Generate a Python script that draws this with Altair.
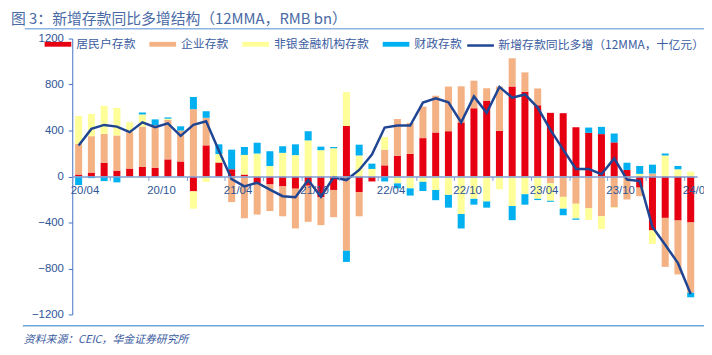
import altair as alt
import pandas as pd

months = ["20/04", "20/05", "20/06", "20/07", "20/08", "20/09", "20/10", "20/11", "20/12",
          "21/01", "21/02", "21/03", "21/04", "21/05", "21/06", "21/07", "21/08", "21/09",
          "21/10", "21/11", "21/12", "22/01", "22/02", "22/03", "22/04", "22/05", "22/06",
          "22/07", "22/08", "22/09", "22/10", "22/11", "22/12", "23/01", "23/02", "23/03",
          "23/04", "23/05", "23/06", "23/07", "23/08", "23/09", "23/10", "23/11", "23/12",
          "24/01", "24/02", "24/03", "24/04"]

household = [17, 34, 120, 51, 69, 83, 77, 149, 131,
             -129, 271, 120, 63, 17, -57, -69, -86, -106,
             -80, -180, -117, 440, -137, -43, 97, 180, 197,
             334, 383, 394, 471, 594, 657, 397, 783, 737,
             620, 554, 551, 429, 380, 369, 297, 57, -97,
             -469, -360, -383, -400]
corporate = [266, 317, 251, 306, 317, 351, 369, 343, 269,
             586, 240, 5, -223, -363, -274, -231, -260, -346,
             -314, -243, -237, -646, -209, 0, 137, 320, 269,
             274, 320, 389, 314, 240, 111, 386, 246, 169,
             146, -60, -177, -237, -277, -346, -269, -200, -74,
             26, -426, -469, -611]
nonbank = [243, 194, 243, 240, 86, 106, 0, 11, 0,
           -151, -46, 70, 0, 171, 200, 91, 206, 186,
           314, 229, 246, 294, 183, 66, 109, -60, -103,
           -46, -117, -160, -326, -194, -217, -111, -257, -154,
           -194, -151, -103, -129, -100, -111, -6, 0, 23,
           -117, 183, 63, 43]
fiscal = [-74, -14, -40, -51, 0, 17, 51, 11, 37,
          106, 57, 85, 171, 69, 94, 129, 57, 94,
          80, 31, 11, -97, 94, 46, -43, -43, -63,
          -80, -89, -111, -126, -51, -54, 0, -123, -91,
          -11, -9, -57, -11, 46, 63, 77, 63, 69,
          77, 17, 29, -40]
total_12mma = [269, 414, 449, 434, 386, 471, 429, 463, 354,
               449, 480, 225, -23, -86, -54, -114, -171, -180,
               -31, -177, -6, -31, 57, 191, 426, 443, 443,
               643, 680, 646, 471, 697, 554, 780, 686, 714,
               600, 406, 234, 66, 66, 20, 157, -26, -40,
               -440, -594, -754, -1023]

series_names = ["居民户存款", "企业存款", "非银金融机构存款", "财政存款"]
line_name = "新增存款同比多增（12MMA，十亿元）"
bar_colors = ["#E60012", "#F4B183", "#FFFF99", "#00B0F0"]
line_color = "#1F4593"
y_ticks = [-1200, -800, -400, 0, 400, 800, 1200]

title_text = "图 3：新增存款同比多增结构（12MMA，RMB bn）"
source_text = "资料来源：CEIC，华金证券研究所"

rows = []
for i, m in enumerate(months):
    for k, (name, vals) in enumerate(zip(series_names, [household, corporate, nonbank, fiscal])):
        rows.append({"m": m, "s": name, "v": vals[i], "o": k})
bars_df = pd.DataFrame(rows)
line_df = pd.DataFrame({"m": months, "v": total_12mma, "s": [line_name] * len(months)})

W, H = 632, 279
STEP = W / len(months)
CJK = "Noto Sans CJK SC"
LAT = "Liberation Sans"
LEG_COLOR = "#3B5CA0"

xscale = alt.Scale(type="band", paddingInner=0, paddingOuter=0)
yscale = alt.Scale(domain=[-1200, 1200], nice=False, zero=False)

thick = "M-1,-0.18L1,-0.18L1,0.18L-1,0.18Z"

bar_legend = alt.Legend(
    title=None, orient="none", legendX=-28, legendY=-8, direction="horizontal",
    columns=4, columnPadding=13, padding=0,
    symbolType=thick, symbolSize=729, symbolStrokeWidth=0,
    labelFont=CJK, labelFontSize=12, labelColor=LEG_COLOR, labelOffset=5,
)
line_legend = alt.Legend(
    title=None, orient="none", legendX=398, legendY=-8, direction="horizontal",
    padding=0, symbolType="stroke", symbolSize=729, symbolStrokeWidth=2.5,
    labelFont=CJK, labelFontSize=12, labelColor=LEG_COLOR, labelOffset=3,
    labelLimit=400,
)

xaxis = alt.Axis(
    title=None, values=months[::3], bandPosition=0, labelOffset=STEP / 2,
    labelExpr="(toNumber(substring(datum.value,3,5)) % 6 == 4) ? datum.value : ''",
    offset=-H / 2, domainColor="#7F9FD5", domainWidth=1.5, tickColor="#7F9FD5",
    tickSize=4, labelColor="#2F5597", labelFont=LAT, labelFontSize=11.5,
    labelPadding=4, labelAngle=0, labelOverlap=False, zindex=1,
)
yaxis = alt.Axis(
    title=None, values=y_ticks, format="d", grid=False, domainColor="#4472C4",
    tickColor="#4472C4", tickSize=4, labelColor="#2F5597", labelFont=LAT,
    labelFontSize=11.5, labelPadding=5, labelFlush=False,
)

bars = alt.Chart(bars_df).mark_bar(width=alt.RelativeBandSize(0.55)).encode(
    x=alt.X("m:N", sort=months, scale=xscale, axis=xaxis),
    y=alt.Y("v:Q", scale=yscale, axis=yaxis, stack="zero"),
    color=alt.Color("s:N", scale=alt.Scale(domain=series_names, range=bar_colors), legend=bar_legend),
    order=alt.Order("o:Q", sort="ascending"),
)

line = alt.Chart(line_df).mark_line(strokeWidth=2.5).encode(
    x=alt.X("m:N", sort=months, scale=xscale),
    y=alt.Y("v:Q", scale=yscale),
    stroke=alt.Stroke("s:N", scale=alt.Scale(domain=[line_name], range=[line_color]), legend=line_legend),
)

deco_df = pd.DataFrame({"t": [title_text], "s": [source_text]})
title = alt.Chart(deco_df).mark_text(
    align="left", baseline="middle", font=CJK, fontSize=15, color="#4A6AA5"
).encode(text="t:N", x=alt.value(-62), y=alt.value(-19.5))
source = alt.Chart(deco_df).mark_text(
    align="left", baseline="middle", font=CJK, fontSize=11, fontStyle="italic", color=LEG_COLOR
).encode(text="s:N", x=alt.value(-49), y=alt.value(305))
top_rule = alt.Chart(deco_df).mark_rule(color="#8DB3E2", strokeWidth=1.5).encode(
    x=alt.value(-48), x2=alt.value(639), y=alt.value(-10))
bottom_rule = alt.Chart(deco_df).mark_rule(color="#6FA8DC", strokeWidth=1.5).encode(
    x=alt.value(-50), x2=alt.value(639), y=alt.value(290.5))

chart = alt.layer(bars, line, title, source, top_rule, bottom_rule).resolve_scale(
    color="independent", stroke="independent"
).properties(
    width=W, height=H, autosize="none",
    padding={"left": 65, "top": 29, "right": 7, "bottom": 31},
).configure_view(stroke=None)

chart.save("out.html", embed_options={"renderer": "svg", "actions": False})
